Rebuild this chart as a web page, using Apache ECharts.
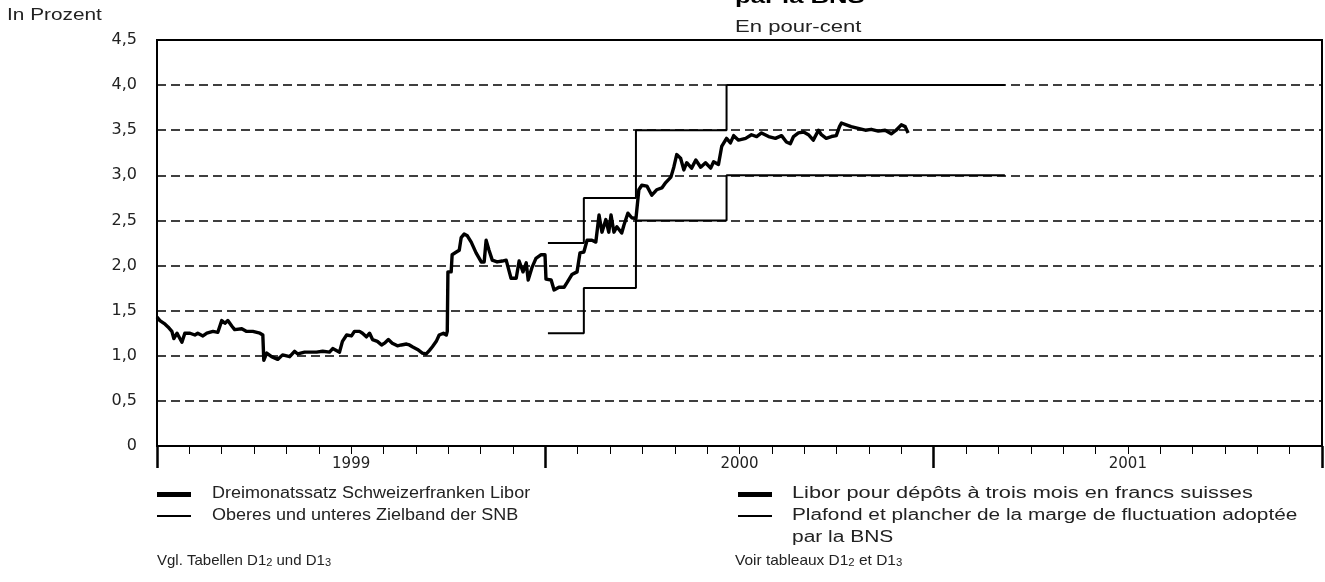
<!DOCTYPE html>
<html>
<head>
<meta charset="utf-8">
<script src="https://cdn.jsdelivr.net/npm/echarts@6/dist/echarts.min.js"></script>
<style>
  html, body { margin: 0; padding: 0; background: #fff; }
  #chart { width: 1325px; height: 582px; }
</style>
</head>
<body>
<div id="chart"></div>
<script>
// x values are months since 1 Jan 1999
var years = ['1999', '2000', '2001'];

// Dreimonatssatz Libor CHF (month, percent)
var liborMonths = [0.00, 0.09, 0.25, 0.34, 0.46, 0.52, 0.62, 0.77, 0.86, 1.02, 1.17, 1.26, 1.42, 1.54, 1.73, 1.88,
  2.00, 2.10, 2.19, 2.31, 2.40, 2.62, 2.77, 2.96, 3.18, 3.27, 3.30, 3.39, 3.54, 3.73, 3.88, 4.10, 4.25, 4.35,
  4.56, 4.62, 4.93, 5.12, 5.33, 5.43, 5.64, 5.73, 5.86, 6.01, 6.10, 6.26, 6.35, 6.47, 6.57, 6.66, 6.81, 6.94,
  7.03, 7.15, 7.27, 7.43, 7.55, 7.71, 7.80, 7.89, 8.05, 8.20, 8.32, 8.42, 8.51, 8.63, 8.72, 8.85, 8.94, 8.97,
  8.99, 9.09, 9.12, 9.25, 9.34, 9.40, 9.49, 9.59, 9.71, 9.86, 10.02, 10.11, 10.17, 10.26, 10.36, 10.51, 10.67,
  10.79, 10.94, 11.10, 11.19, 11.31, 11.41, 11.47, 11.59, 11.71, 11.87, 11.99, 12.02, 12.18, 12.27, 12.42,
  12.58, 12.67, 12.82, 12.98, 13.07, 13.19, 13.29, 13.44, 13.56, 13.66, 13.75, 13.87, 13.96, 14.03, 14.12,
  14.21, 14.36, 14.43, 14.55, 14.67, 14.80, 14.89, 14.98, 15.14, 15.29, 15.44, 15.60, 15.72, 15.88, 15.97,
  16.06, 16.18, 16.28, 16.37, 16.52, 16.65, 16.80, 16.95, 17.11, 17.20, 17.35, 17.45, 17.60, 17.72, 17.82,
  17.97, 18.19, 18.37, 18.53, 18.68, 18.90, 19.11, 19.30, 19.45, 19.57, 19.67, 19.82, 19.98, 20.13, 20.28,
  20.44, 20.53, 20.68, 20.84, 20.99, 21.09, 21.15, 21.30, 21.45, 21.67, 21.89, 22.07, 22.29, 22.50, 22.69,
  22.84, 23.00, 23.12, 23.21];
var liborValues = [1.43, 1.39, 1.35, 1.32, 1.27, 1.19, 1.25, 1.15, 1.25, 1.25, 1.23, 1.25, 1.22, 1.25, 1.27, 1.26,
  1.39, 1.36, 1.39, 1.33, 1.29, 1.30, 1.27, 1.27, 1.25, 1.23, 0.95, 1.03, 0.99, 0.96, 1.01, 0.99, 1.05, 1.02,
  1.04, 1.04, 1.04, 1.05, 1.04, 1.08, 1.04, 1.16, 1.23, 1.22, 1.27, 1.27, 1.25, 1.21, 1.25, 1.18, 1.16, 1.12,
  1.14, 1.18, 1.14, 1.11, 1.12, 1.13, 1.12, 1.10, 1.07, 1.03, 1.02, 1.06, 1.10, 1.16, 1.23, 1.25, 1.23, 1.27,
  1.93, 1.93, 2.12, 2.15, 2.17, 2.31, 2.35, 2.33, 2.26, 2.14, 2.04, 2.04, 2.28, 2.17, 2.06, 2.04, 2.05,
  2.06, 1.86, 1.86, 2.05, 1.93, 2.03, 1.84, 1.98, 2.08, 2.12, 2.12, 1.85, 1.84, 1.73, 1.76,
  1.76, 1.81, 1.90, 1.93, 2.14, 2.15, 2.28, 2.28, 2.26, 2.56, 2.37, 2.51, 2.37, 2.56, 2.37,
  2.43, 2.36, 2.45, 2.58, 2.53, 2.52, 2.84, 2.89, 2.88, 2.78, 2.84, 2.86, 2.92, 2.98, 3.09,
  3.23, 3.19, 3.06, 3.14, 3.08, 3.17, 3.09, 3.14, 3.08, 3.15, 3.12, 3.32, 3.41, 3.36, 3.44,
  3.39, 3.41, 3.45, 3.43, 3.47, 3.43, 3.41, 3.44, 3.37, 3.35, 3.43, 3.47, 3.48, 3.45, 3.39,
  3.50, 3.45, 3.41, 3.43, 3.44, 3.54, 3.58, 3.56, 3.54, 3.52, 3.50, 3.51, 3.49, 3.50, 3.46,
  3.50, 3.56, 3.54, 3.47];

// SNB target range: change dates (months) and levels
var bandMonths = [12.08, 13.19, 14.80, 17.60, 26.2];
var bandUpper = [2.25, 2.75, 3.5, 4.0];
var bandLower = [1.25, 1.75, 2.5, 3.0];

var fontName = '"Liberation Sans", Arial, sans-serif';
var wide = '"DejaVu Sans", "Liberation Sans", sans-serif';
var textColor = '#222';

function zip(xs, ys) {
  return xs.map(function (x, i) { return [x, ys[i]]; });
}
function band(levels) {
  return bandMonths.map(function (m, i) {
    return [m, levels[Math.min(i, levels.length - 1)]];
  });
}
// stretched text, anchored at its left middle
function label(x, y, text, size, sx) {
  return {
    type: 'text', x: x, y: y, scaleX: sx,
    style: { text: text, fontSize: size, fontFamily: fontName, fill: textColor, verticalAlign: 'middle' }
  };
}
// footnote with small table numbers
function note(x, y, text, sx) {
  return {
    type: 'text', x: x, y: y, scaleX: sx,
    style: {
      text: text, fontSize: 15, fontFamily: fontName, fill: textColor, verticalAlign: 'middle',
      rich: {
        n: { fontSize: 15, fontFamily: fontName, fill: textColor },
        s: { fontSize: 11, fontFamily: fontName, fill: textColor, verticalAlign: 'bottom' }
      }
    }
  };
}

var chart = echarts.init(document.getElementById('chart'));

var option = {
  animation: false,
  backgroundColor: '#fff',
  grid: {
    left: 157, right: 2, top: 40, bottom: 136,
    show: true, borderColor: '#000', borderWidth: 2
  },
  xAxis: [
    {
      type: 'value', position: 'bottom', min: 0, max: 36, interval: 1,
      axisLine: { show: true, lineStyle: { color: '#000', width: 2 } },
      axisTick: { show: true, length: 8, lineStyle: { color: '#000', width: 1 } },
      axisLabel: {
        show: true, margin: 11, color: textColor, fontFamily: wide, fontSize: 15,
        formatter: function (v) { return v % 12 === 6 ? years[(v - 6) / 12] : ''; }
      },
      splitLine: { show: false }
    },
    {
      type: 'value', position: 'bottom', min: 0, max: 36, interval: 12,
      axisLine: { show: false },
      axisTick: { show: true, length: 22, lineStyle: { color: '#000', width: 2.5 } },
      axisLabel: { show: false },
      splitLine: { show: false }
    }
  ],
  yAxis: {
    type: 'value', min: 0, max: 4.5, interval: 0.5,
    axisLine: { show: true, lineStyle: { color: '#000', width: 2 } },
    axisTick: { show: false },
    axisLabel: {
      margin: 20, color: textColor, fontFamily: wide, fontSize: 16,
      formatter: function (v) { return v === 0 ? '0' : v.toFixed(1).replace('.', ','); }
    },
    splitLine: { show: true, lineStyle: { color: '#000', width: 1.5, type: [9, 5] } }
  },
  series: [
    {
      name: 'Zielband oben', type: 'line', step: 'end', data: band(bandUpper),
      showSymbol: false, lineStyle: { color: '#000', width: 2 }, z: 3
    },
    {
      name: 'Zielband unten', type: 'line', step: 'end', data: band(bandLower),
      showSymbol: false, lineStyle: { color: '#000', width: 2 }, z: 3
    },
    {
      name: 'Libor', type: 'line', data: zip(liborMonths, liborValues),
      showSymbol: false, lineStyle: { color: '#000', width: 3.4, join: 'round' }, z: 4
    }
  ],
  graphic: [
    label(7, 16, 'In Prozent', 16, 1.3),
    {
      type: 'text', x: 735, y: -2, scaleX: 1.35,
      style: { text: 'par la BNS', fontSize: 19, fontWeight: 'bold', fontFamily: fontName, fill: '#000', verticalAlign: 'middle' }
    },
    label(735, 28, 'En pour-cent', 16, 1.38),

    { type: 'rect', shape: { x: 157, y: 492, width: 34, height: 5 }, style: { fill: '#000' } },
    label(212, 494, 'Dreimonatssatz Schweizerfranken Libor', 16, 1.125),
    { type: 'rect', shape: { x: 157, y: 515, width: 34, height: 2 }, style: { fill: '#000' } },
    label(212, 516, 'Oberes und unteres Zielband der SNB', 16, 1.125),
    note(157, 561, '{n|Vgl. Tabellen D1}{s|2}{n| und D1}{s|3}', 1),

    { type: 'rect', shape: { x: 738, y: 492, width: 34, height: 5 }, style: { fill: '#000' } },
    label(792, 494, 'Libor pour dépôts à trois mois en francs suisses', 16, 1.36),
    { type: 'rect', shape: { x: 738, y: 515, width: 34, height: 2 }, style: { fill: '#000' } },
    label(792, 516, 'Plafond et plancher de la marge de fluctuation adoptée', 16, 1.30),
    label(792, 538, 'par la BNS', 16, 1.31),
    note(735, 561, '{n|Voir tableaux D1}{s|2}{n| et D1}{s|3}', 1.03)
  ]
};

chart.setOption(option);
</script>
</body>
</html>
